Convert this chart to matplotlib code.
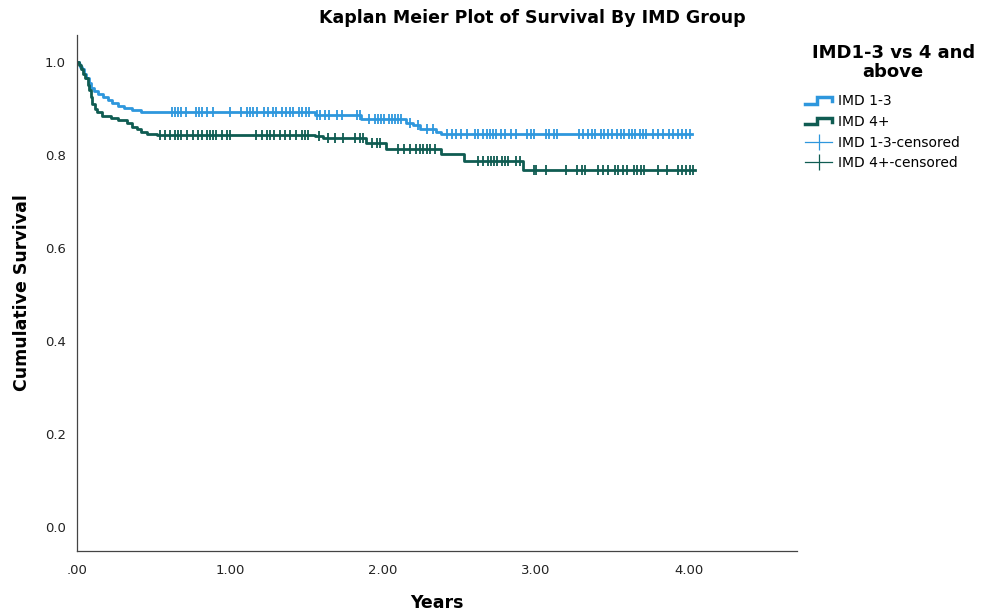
import numpy as np
import matplotlib
matplotlib.use('Agg')
import matplotlib.pyplot as plt
from matplotlib.lines import Line2D
from matplotlib.legend_handler import HandlerBase

# event times (years) and survival right after each event
blue_t = [0.0, 0.01, 0.02, 0.03, 0.045, 0.06, 0.075, 0.09, 0.11, 0.14, 0.17, 0.2, 0.23, 0.27, 0.31, 0.36, 0.42,
          1.555, 1.86, 2.15, 2.2, 2.24, 2.35, 2.38]
blue_s = [1.0, 0.995, 0.99, 0.985, 0.975, 0.965, 0.955, 0.945, 0.938, 0.932, 0.925, 0.918, 0.912, 0.906, 0.901, 0.896, 0.893,
          0.886, 0.877, 0.870, 0.865, 0.857, 0.850, 0.845]
blue_end = 4.02
blue_cens = [0.62, 0.64, 0.66, 0.68, 0.71, 0.78, 0.80, 0.82, 0.85, 0.89, 1.0, 1.07, 1.11, 1.13, 1.15, 1.18, 1.22, 1.25,
             1.28, 1.30, 1.34, 1.37, 1.39, 1.41, 1.45, 1.47, 1.50, 1.52,
             1.57, 1.59, 1.62, 1.65, 1.70, 1.73, 1.83, 1.85, 1.91, 1.95, 1.97, 1.99, 2.01, 2.04, 2.06, 2.08, 2.10,
             2.12, 2.18, 2.23, 2.29, 2.33, 2.42, 2.45, 2.48, 2.51, 2.55, 2.60, 2.62, 2.655, 2.68, 2.70, 2.72, 2.74,
             2.77, 2.80, 2.84, 2.87, 2.94, 2.97, 2.99, 3.07, 3.09, 3.12, 3.14, 3.28, 3.31, 3.34, 3.37, 3.39, 3.43,
             3.45, 3.47, 3.50, 3.53, 3.56, 3.58, 3.61, 3.63, 3.65, 3.68, 3.70, 3.72, 3.77, 3.80, 3.83, 3.87, 3.90,
             3.93, 3.96, 3.98, 4.01]

green_t = [0.0, 0.01, 0.025, 0.04, 0.055, 0.07, 0.08, 0.09, 0.1, 0.115, 0.13, 0.16, 0.22, 0.27, 0.33, 0.36, 0.39, 0.42,
           0.46, 0.52, 1.556, 1.61, 1.89, 2.02, 2.38, 2.53, 2.92]
green_s = [1.0, 0.993, 0.985, 0.975, 0.965, 0.95, 0.94, 0.925, 0.91, 0.9, 0.892, 0.885, 0.88, 0.875, 0.868, 0.861, 0.855,
           0.849, 0.846, 0.844, 0.840, 0.836, 0.825, 0.814, 0.803, 0.788, 0.768]
green_end = 4.04
green_cens = [0.54, 0.575, 0.61, 0.64, 0.66, 0.68, 0.72, 0.76, 0.79, 0.82, 0.85, 0.87, 0.89, 0.91, 0.95, 0.98, 1.0,
              1.17, 1.21, 1.24, 1.26, 1.29, 1.33, 1.36, 1.39, 1.43, 1.47, 1.49, 1.51,
              1.58, 1.64, 1.69, 1.74, 1.82, 1.85, 1.87, 1.93, 1.96, 1.98, 2.10, 2.14, 2.18, 2.22, 2.24, 2.26,
              2.29, 2.31, 2.34, 2.62, 2.655, 2.69, 2.71, 2.73, 2.75, 2.78, 2.80, 2.82, 2.87, 2.90, 2.99, 3.00,
              3.07, 3.20, 3.27, 3.30, 3.32, 3.41, 3.44, 3.47, 3.52, 3.54, 3.57, 3.60, 3.64, 3.66, 3.69, 3.71,
              3.80, 3.86, 3.93, 3.96, 3.98, 4.01, 4.03]

BLUE = '#2e97dd'
GREEN = '#0f5c52'


def surv_at(ts, ss, x):
	i = np.searchsorted(ts, x, side='right') - 1
	return np.array(ss)[i]


class StepHandler(HandlerBase):
	def create_artists(self, legend, orig, xd, yd, w, h, fontsize, trans):
		xs = [-xd, -xd + w * 0.45, -xd + w * 0.45, -xd + w, -xd + w]
		ys = [-yd + h * 0.15, -yd + h * 0.15, -yd + h * 0.85, -yd + h * 0.85, -yd + h * 0.45]
		l = Line2D(xs, ys, color=orig.get_color(), lw=orig.get_linewidth(), transform=trans,
		           solid_joinstyle='miter')
		return [l]


fig = plt.figure(figsize=(9.89, 6.16), dpi=100)
ax = fig.add_axes([0.0779, 0.1055, 0.7281, 0.8375])

for ts, ss, end, cens, col in [(blue_t, blue_s, blue_end, blue_cens, BLUE),
                                (green_t, green_s, green_end, green_cens, GREEN)]:
	xs = list(ts) + [end]
	ys = list(ss) + [ss[-1]]
	ax.step(xs, ys, where='post', color=col, lw=2.0)
	ax.plot(cens, surv_at(ts, ss, cens), ls='none', marker='|', ms=7.5, mew=1.3, color=col)

ax.set_xlim(0, 4.71)
ax.set_ylim(-0.0516, 1.058)
ax.set_xticks([0, 1, 2, 3, 4])
ax.set_xticklabels(['.00', '1.00', '2.00', '3.00', '4.00'])
ax.set_yticks([0, 0.2, 0.4, 0.6, 0.8, 1.0])
ax.set_yticklabels(['0.0', '0.2', '0.4', '0.6', '0.8', '1.0'])
ax.tick_params(length=0, labelsize=9.5, colors='#222222')
ax.tick_params(axis='x', pad=9)
ax.tick_params(axis='y', pad=8)
for sp in ['top', 'right']:
	ax.spines[sp].set_visible(False)
for sp in ['left', 'bottom']:
	ax.spines[sp].set_color('#444444')
	ax.spines[sp].set_linewidth(0.9)

ax.set_xlabel('Years', fontsize=12.5, fontweight='bold', va='center')
ax.xaxis.set_label_coords(0.5, -0.1008)
ax.set_ylabel('Cumulative Survival', fontsize=12.5, fontweight='bold', va='center')
ax.yaxis.set_label_coords(-0.076, 0.5)
fig.text(0.538, 0.97, 'Kaplan Meier Plot of Survival By IMD Group', ha='center', va='center',
         fontsize=12.5, fontweight='bold')

# legend title
fig.text(0.903, 0.899, 'IMD1-3 vs 4 and\nabove', ha='center', va='center', multialignment='center',
         fontsize=13, fontweight='bold', linespacing=1.05)

h1 = Line2D([], [], color=BLUE, lw=2.5)
h2 = Line2D([], [], color=GREEN, lw=2.5)
h3 = Line2D([], [], color=BLUE, lw=0.9, marker='|', ms=12, mew=0.9)
h4 = Line2D([], [], color=GREEN, lw=0.9, marker='|', ms=12, mew=0.9)
leg = fig.legend([h1, h2, h3, h4], ['IMD 1-3', 'IMD 4+', 'IMD 1-3-censored', 'IMD 4+-censored'],
                 loc='upper left', bbox_to_anchor=(0.814, 0.847), frameon=False, fontsize=10,
                 handlelength=1.95, handletextpad=0.4, labelspacing=0.48,
                 borderaxespad=0, borderpad=0,
                 handler_map={h1: StepHandler(), h2: StepHandler()})

plt.savefig('out.png', dpi=100)
